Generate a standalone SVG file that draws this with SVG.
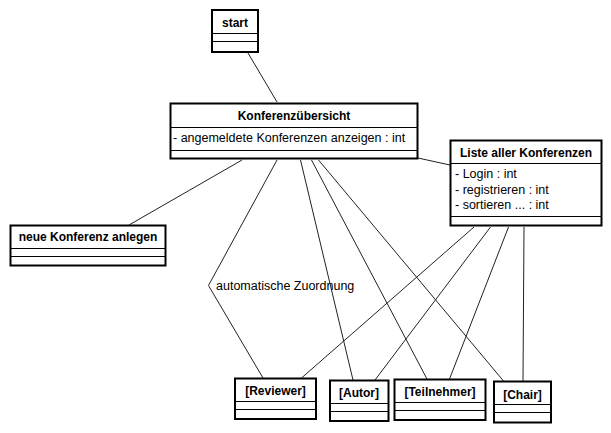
<svg xmlns="http://www.w3.org/2000/svg" width="611" height="433" viewBox="0 0 611 433">
<style>
.box{fill:#fff;stroke:#000;stroke-width:2}
.sep{stroke:#000;stroke-width:1}
.t{font-family:"Liberation Sans",Arial,sans-serif;font-size:12px;font-weight:bold;text-anchor:middle;fill:#000}
.a{font-family:"Liberation Sans",Arial,sans-serif;font-size:12.5px;fill:#000}
.c{fill:none;stroke:#222;stroke-width:1}
</style>
<rect width="611" height="433" fill="#fff"/>
<g id="connectors">
<line class="c" x1="248" y1="53" x2="277" y2="102"/>
<line class="c" x1="242" y1="160" x2="129" y2="225"/>
<polyline class="c" points="277,160 208.5,285.5 263,378"/>
<line class="c" x1="300.5" y1="160" x2="353" y2="380"/>
<line class="c" x1="311.5" y1="160" x2="427" y2="379"/>
<line class="c" x1="318.5" y1="160" x2="503.5" y2="381"/>
<line class="c" x1="418" y1="158" x2="450" y2="165"/>
<line class="c" x1="474" y1="227" x2="301.5" y2="378"/>
<line class="c" x1="490.5" y1="227" x2="375" y2="380"/>
<line class="c" x1="508.5" y1="227" x2="449.5" y2="379"/>
<line class="c" x1="524" y1="227" x2="523" y2="381"/>
<text class="a" x="216" y="290">automatische Zuordnung</text>
</g>
<g id="start">
<rect class="box" x="212" y="10" width="46" height="42"/>
<line class="sep" x1="212" y1="33.5" x2="258" y2="33.5"/>
<line class="sep" x1="212" y1="41.5" x2="258" y2="41.5"/>
<text class="t" x="235" y="27">start</text>
</g>
<g id="konferenzuebersicht">
<rect class="box" x="170.5" y="103.5" width="247" height="55"/>
<line class="sep" x1="170.5" y1="127.5" x2="417.5" y2="127.5"/>
<line class="sep" x1="170.5" y1="150.5" x2="417.5" y2="150.5"/>
<text class="t" x="294" y="120">Konferenzübersicht</text>
<text class="a" x="173" y="142">- angemeldete Konferenzen anzeigen : int</text>
</g>
<g id="liste">
<rect class="box" x="450.5" y="140.5" width="151" height="85"/>
<line class="sep" x1="450.5" y1="163.5" x2="601.5" y2="163.5"/>
<line class="sep" x1="450.5" y1="216.5" x2="601.5" y2="216.5"/>
<text class="t" x="526" y="157">Liste aller Konferenzen</text>
<text class="a" x="455" y="178">- Login : int</text>
<text class="a" x="455" y="194">- registrieren : int</text>
<text class="a" x="455" y="209">- sortieren ... : int</text>
</g>
<g id="neue">
<rect class="box" x="10.5" y="225.5" width="155" height="40"/>
<line class="sep" x1="10.5" y1="248.5" x2="165.5" y2="248.5"/>
<line class="sep" x1="10.5" y1="256.5" x2="165.5" y2="256.5"/>
<text class="t" x="88" y="241">neue Konferenz anlegen</text>
</g>
<g id="reviewer">
<rect class="box" x="235" y="378.5" width="81" height="40.5"/>
<line class="sep" x1="235" y1="401.5" x2="316" y2="401.5"/>
<line class="sep" x1="235" y1="409.5" x2="316" y2="409.5"/>
<text class="t" x="275.5" y="395">[Reviewer]</text>
</g>
<g id="autor">
<rect class="box" x="330" y="380.5" width="58.5" height="40.5"/>
<line class="sep" x1="330" y1="403.5" x2="388.5" y2="403.5"/>
<line class="sep" x1="330" y1="411.5" x2="388.5" y2="411.5"/>
<text class="t" x="359" y="397">[Autor]</text>
</g>
<g id="teilnehmer">
<rect class="box" x="394.5" y="379.5" width="91" height="40.5"/>
<line class="sep" x1="394.5" y1="402.5" x2="485.5" y2="402.5"/>
<line class="sep" x1="394.5" y1="410.5" x2="485.5" y2="410.5"/>
<text class="t" x="440" y="396">[Teilnehmer]</text>
</g>
<g id="chair">
<rect class="box" x="494" y="381.5" width="57" height="41"/>
<line class="sep" x1="494" y1="404.5" x2="551" y2="404.5"/>
<line class="sep" x1="494" y1="412.5" x2="551" y2="412.5"/>
<text class="t" x="522.5" y="398.5">[Chair]</text>
</g>
</svg>
